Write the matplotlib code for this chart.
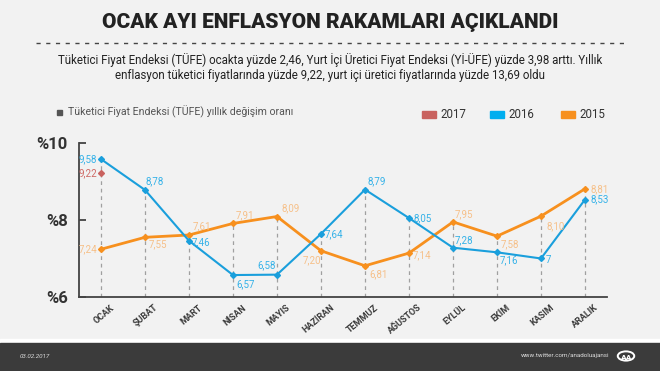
import matplotlib
matplotlib.use("Agg")
import matplotlib.pyplot as plt
from matplotlib.patches import Rectangle, Circle

plt.rcParams['font.family'] = ['Roboto', 'DejaVu Sans']

months = ["OCAK", "ŞUBAT", "MART", "NİSAN", "MAYIS", "HAZİRAN", "TEMMUZ",
          "AĞUSTOS", "EYLÜL", "EKİM", "KASIM", "ARALIK"]
y2016 = [9.58, 8.78, 7.46, 6.57, 6.58, 7.64, 8.79, 8.05, 7.28, 7.16, 7.00, 8.53]
lbl2016 = ["9,58", "8,78", "7,46", "6,57", "6,58", "7,64", "8,79", "8,05", "7,28", "7,16", "7", "8,53"]
y2015 = [7.24, 7.55, 7.61, 7.91, 8.09, 7.20, 6.81, 7.14, 7.95, 7.58, 8.10, 8.81]
lbl2015 = ["7,24", "7,55", "7,61", "7,91", "8,09", "7,20", "6,81", "7,14", "7,95", "7,58", "8,10", "8,81"]
y2017 = [9.22]
lbl2017 = ["9,22"]
yticks = [6, 8, 10]
ytick_labels = ["%6", "%8", "%10"]

BG = "#f2f2f2"
BLUE = "#1a9fdc"
ORANGE = "#f7901e"
RED = "#c9625f"
BLUE_T = "#35b2e8"
ORANGE_T = "#f6c089"
RED_T = "#cf6a66"

fig = plt.figure(figsize=(6.6, 3.71), dpi=100)
fig.patch.set_facecolor(BG)

ax = fig.add_axes([0.1197, 0.1995, 0.80, 0.4151])
ax.set_facecolor("none")
x = list(range(len(months)))

# dashed guides from the top value of each month
tops = [max(a, b) for a, b in zip(y2016, y2015)]
tops[0] = max(tops[0], y2017[0])
ax.vlines(x, 6, tops, colors="#a0a0a0", linestyles=(0, (3, 3)), linewidth=0.9, zorder=1)

ax.plot(x, y2015, color=ORANGE, lw=2, marker="D", ms=3, zorder=3)
ax.plot(x, y2016, color=BLUE, lw=1.5, marker="D", ms=3, zorder=4)
ax.plot([0], y2017, color=RED, lw=0, marker="D", ms=3, zorder=5)

off16 = [(-4, 0, "right", "center"), (0, 4, "left", "bottom"), (3, -1, "left", "center"),
         (3, -4, "left", "top"), (-1, 4, "right", "bottom"), (4, 0, "left", "center"),
         (2, 3, "left", "bottom"), (4, 0, "left", "center"), (2, 3, "left", "bottom"),
         (3, -3, "left", "top"), (5, -2, "left", "center"), (5, 0, "left", "center")]
off15 = [(-4, 0, "right", "center"), (4, -2, "left", "top"), (4, 4, "left", "bottom"),
         (3, 3, "left", "bottom"), (4, 3, "left", "bottom"), (0, -4, "right", "top"),
         (4, -3, "left", "top"), (4, -2, "left", "center"), (2, 3, "left", "bottom"),
         (4, -3, "left", "top"), (5, -5, "left", "top"), (5, 0, "left", "center")]

for i, (v, t) in enumerate(zip(y2016, lbl2016)):
    dx, dy, ha, va = off16[i]
    ax.annotate(t, (i, v), xytext=(dx, dy), textcoords="offset pixels",
                ha=ha, va=va, fontsize=7, color=BLUE_T, zorder=6)
for i, (v, t) in enumerate(zip(y2015, lbl2015)):
    dx, dy, ha, va = off15[i]
    ax.annotate(t, (i, v), xytext=(dx, dy), textcoords="offset pixels",
                ha=ha, va=va, fontsize=7, color=ORANGE_T, zorder=6)
ax.annotate(lbl2017[0], (0, y2017[0]), xytext=(-4, 0), textcoords="offset pixels",
            ha="right", va="center", fontsize=7, color=RED_T, zorder=6)

ax.set_xlim(-0.5, 11.5)
ax.set_ylim(6, 10)
for s in ["top", "right"]:
    ax.spines[s].set_visible(False)
for s in ["left", "bottom"]:
    ax.spines[s].set_color("#444444")
    ax.spines[s].set_linewidth(1.3)

ax.set_yticks(yticks)
ax.set_yticklabels(ytick_labels, fontsize=12, fontweight="bold", color="#333333")
ax.tick_params(axis="y", direction="in", length=5, width=1.3, color="#444444", pad=8)
ax.set_xticks(x)
ax.set_xticklabels([])
ax.tick_params(axis="x", length=0)
for i, m in enumerate(months):
    ax.annotate(m, (i, 6), xytext=(9, -6), textcoords="offset pixels",
                rotation=40, rotation_mode="anchor", ha="right", va="top",
                fontsize=6.5, fontweight="bold", color="#3a3a3a",
                annotation_clip=False)

# title and subtitle
fig.text(0.5, 0.94, "OCAK AYI ENFLASYON RAKAMLARI AÇIKLANDI", ha="center", va="center",
         fontsize=15, fontweight="black", color="#222222")
fig.add_artist(plt.Line2D([0.055, 0.945], [1 - 43 / 371] * 2, color="#444444",
                          lw=1, ls=(0, (3, 4))))
fig.text(0.5, 1 - 60 / 371,
         "Tüketici Fiyat Endeksi (TÜFE) ocakta yüzde 2,46, Yurt İçi Üretici Fiyat Endeksi (Yİ-ÜFE) yüzde 3,98 arttı. Yıllık",
         ha="center", va="center", fontsize=8.3, color="#222222")
fig.text(0.5, 1 - 76 / 371,
         "enflasyon tüketici fiyatlarında yüzde 9,22, yurt içi üretici fiyatlarında yüzde 13,69 oldu",
         ha="center", va="center", fontsize=8.3, color="#222222")

# legends
fig.patches.append(Rectangle((57 / 660, 1 - 114.5 / 371), 5 / 660, 5 / 371,
                             transform=fig.transFigure, color="#555555", figure=fig))
fig.text(68 / 660, 1 - 112 / 371, "Tüketici Fiyat Endeksi (TÜFE) yıllık değişim oranı",
         ha="left", va="center", fontsize=7.6, color="#555555")
for lx, c, t in [(422, RED, "2017"), (490, "#00aeef", "2016"), (561, ORANGE, "2015")]:
    fig.patches.append(Rectangle((lx / 660, 1 - 117.5 / 371), 14 / 660, 7 / 371,
                                 transform=fig.transFigure, color=c, figure=fig))
    fig.text((lx + 18) / 660, 1 - 114 / 371, t, ha="left", va="center", fontsize=8.3,
             color="#333333")

# footer
fig.patches.append(Rectangle((0, 1 - 343 / 371), 1, 4 / 371, transform=fig.transFigure,
                             color="white", figure=fig))
fig.patches.append(Rectangle((0, 0), 1, 28 / 371, transform=fig.transFigure,
                             color="#3b3b3b", figure=fig))
fig.text(20 / 660, 1 - 356 / 371, "03.02.2017", ha="left", va="center", fontsize=4.5,
         style="italic", color="#dddddd")
fig.text(609 / 660, 1 - 356 / 371, "www.twitter.com/anadoluajansi", ha="right", va="center",
         fontsize=4.5, color="#dddddd")
fig.patches.append(Circle((626 / 660, 1 - 356 / 371), 0.0125, transform=fig.transFigure,
                          fill=False, ec="white", lw=1.4, figure=fig))
fig.text(626 / 660, 1 - 357 / 371, "AA", ha="center", va="center", fontsize=6,
         fontweight="black", color="white")

fig.savefig("out.png", dpi=100, facecolor=BG)
